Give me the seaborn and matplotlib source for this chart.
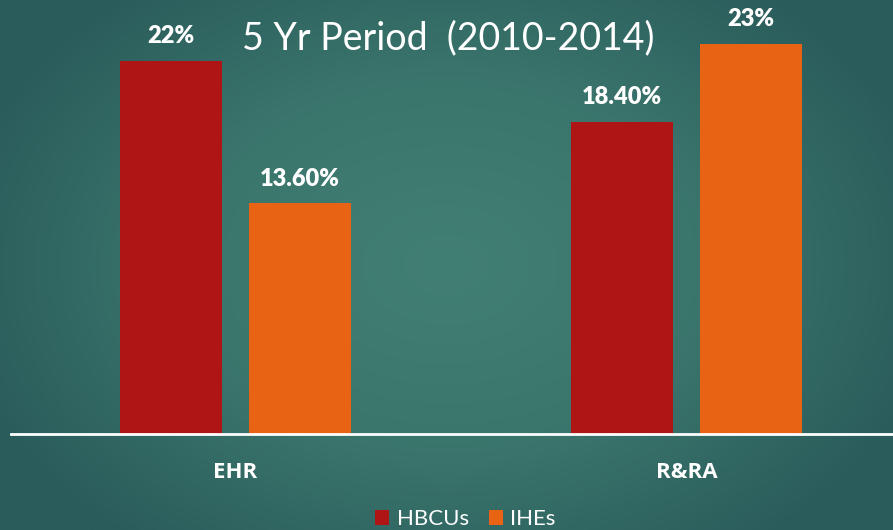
import numpy as np
import pandas as pd
import matplotlib
matplotlib.use('Agg')
import matplotlib.pyplot as plt
import seaborn as sns
from matplotlib.colors import LinearSegmentedColormap
from matplotlib.patches import Patch

# values
categories = ['EHR', 'R&RA']
groups = ['HBCUs', 'IHEs']
hbcu_vals = [22.0, 18.4]
ihe_vals = [13.6, 23.0]
value_labels = ['22%', '13.60%', '18.40%', '23%']  # order: EHR-HBCU, EHR-IHE, RRA-HBCU, RRA-IHE
title = '5 Yr Period  (2010-2014)'

df = pd.DataFrame({
    'Category': categories * 2,
    'Group': [groups[0]] * 2 + [groups[1]] * 2,
    'Value': hbcu_vals + ihe_vals,
})

sns.set_theme(style='white')
plt.rcParams['font.family'] = ['Lato', 'DejaVu Sans']

fig = plt.figure(figsize=(8.93, 5.30), dpi=100)

# radial teal gradient background
bg = fig.add_axes([0, 0, 1, 1], zorder=0)
yy, xx = np.mgrid[0:1:300j, 0:1:500j]
r = np.sqrt(((xx - 0.5) / 0.75) ** 2 + ((yy - 0.5) / 0.9) ** 2)
cmap = LinearSegmentedColormap.from_list('bg', ['#427f73', '#3b766d', '#2a5c5b'])
bg.imshow(r, cmap=cmap, aspect='auto', extent=[0, 1, 0, 1], vmin=0, vmax=0.75)
bg.axis('off')

ax = fig.add_axes([0.0123, 0.181, 0.9877, 0.819], zorder=1)
ax.patch.set_alpha(0)
palette = {'HBCUs': '#b01515', 'IHEs': '#e86414'}
sns.barplot(data=df, x='Category', y='Value', hue='Group', order=categories,
            hue_order=groups, palette=palette, width=0.572, gap=0.21,
            saturation=1, linewidth=0, ax=ax, legend=False)

ax.set_xlim(-0.498, 1.458)
ax.set_ylim(0, 25.6)
ax.set_yticks([])
ax.set_xlabel('')
ax.set_ylabel('')
for s in ['top', 'right', 'left']:
    ax.spines[s].set_visible(False)
ax.spines['bottom'].set_color('white')
ax.spines['bottom'].set_linewidth(2)
ax.tick_params(axis='x', length=0, pad=20)
ax.set_xticks(range(len(categories)))
ax.set_xticklabels(categories, color='white', fontsize=16, fontweight='bold',
                   family=['Open Sans', 'DejaVu Sans'])

# value labels above bars
bars = sorted(ax.patches, key=lambda p: p.get_x())
for p, lab in zip(bars, value_labels):
    ax.annotate(lab, (p.get_x() + p.get_width() / 2, p.get_height()),
                xytext=(0, 10), textcoords='offset points', ha='center', va='bottom',
                color='white', fontsize=17, fontweight='heavy')

fig.text(0.502, 0.928, title, ha='center', va='center', color='white',
         fontsize=27, fontweight='normal')

# legend at bottom
handles = [Patch(facecolor=palette[g], edgecolor='none') for g in groups]
leg = fig.legend(handles, groups, loc='center', bbox_to_anchor=(0.521, 0.02),
                 ncol=2, frameon=False, fontsize=16, handlelength=0.63,
                 handleheight=0.63, handletextpad=0.35, columnspacing=0.9)
for t in leg.get_texts():
    t.set_color('white')

fig.savefig('out.png', dpi=100)
